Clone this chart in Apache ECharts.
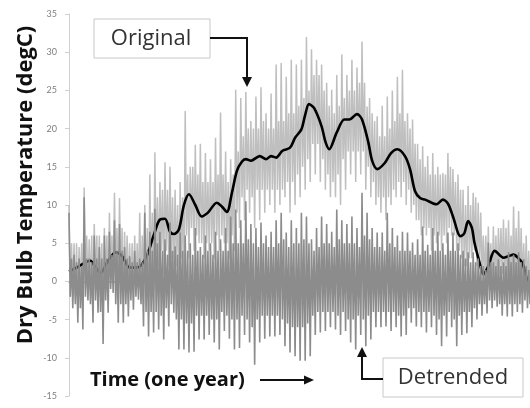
<!DOCTYPE html>
<html><head><meta charset="utf-8">
<script src="https://cdn.jsdelivr.net/npm/echarts@6/dist/echarts.min.js"></script>
<style>html,body{margin:0;padding:0;background:#fff}#c{width:530px;height:408px}</style>
</head><body><div id="c"></div>
<script>
// one bin every 4 days: extreme high/low and the dense core high/low
const binStep = 4;
const origHi = [10,5,4.5,12.3,5.5,7.5,6,7,9,11.6,
  10.9,6.5,5,6,9,10,14,16.9,13,15.6,
  15,12,13,22.3,15,17.9,18,16.8,16,18.8,
  22.1,17,16,25.1,24,24.8,21,24.2,25.4,22,
  24.6,28.4,28.6,26.8,29,28.4,29,32,30.4,29,
  28.4,26,25.1,27,29.7,27,29,28,31.4,22.9,
  22,21.6,23,24.2,25,26.8,27.7,22,21.2,18,
  17.7,16.4,16.8,15,14.2,16.8,14.7,14,12,12.5,
  11.6,10.3,6,7.2,7.2,7,8.1,8,9.8,9.2,
  5,4];
const origLo = [-2,-3,-4,-1,-3,-2,-6,-2,0,-2,
  -2,-1,-2,-1,-3,-4,-1,2,1,2,
  1,0,-1,3,4,5,3,4,3,4,
  5,3,4,7,8,9,7,8,9,10,
  9,10,11,9,10,11,12,13,14,13,
  12,11,11,10,12,14,13,14,12,11,
  10,9,8,10,11,11,10,9,8,6,
  6,4,5,4,5,6,4,3,2,3,
  2,1,-1,-1,0,1,0,0,0,0,
  -1,-2];
const origCoreHi = [5,5,5,6,6,6,5,6,6,7,
  7,6,5,5,6,7,9,11,12,12,
  11,10,11,14,15,14,13,13,13,14,
  14,13,14,17,19,20,20,20,21,20,
  20,21,21,22,22,23,24,25,27,27,
  25,23,22,23,24,25,25,26,26,24,
  21,19,19,20,21,22,21,20,18,16,
  15,14,14,14,14,15,13,12,10,10,
  11,9,6,5,6,7,7,6,7,7,
  6,4];
const origCoreLo = [-2,-2,-1,-1,-1,-1,-2,-1,0,0,
  0,-1,-1,-1,-1,0,1,2,4,4,
  3,2,3,6,7,6,5,5,5,6,
  6,5,6,9,11,12,11,12,12,12,
  12,12,12,13,13,14,15,16,18,18,
  16,14,13,14,16,17,17,17,17,15,
  13,11,11,11,12,13,13,12,10,8,
  7,7,6,6,6,7,6,4,2,3,
  4,2,0,-1,0,1,0,0,0,0,
  -1,-2];
const detrHi = [9.0,3.5,3.0,11.0,3.0,6.0,4.5,6.0,6.5,8.0,
  7.5,4.5,3.3,4.0,3.0,9.0,6.5,9.5,6.5,5.5,
  7.7,4.6,6.4,6.0,5.0,7.0,4.5,6.0,5.0,6.5,
  5.5,7.0,8.5,9.4,8.0,10.5,7.5,7.0,7.7,6.0,
  6.5,8.0,9.0,6.4,8.0,7.0,9.0,8.5,5.5,7.0,
  8.5,7.5,6.5,9.4,8.0,7.5,8.5,7.0,11.6,9.0,
  7.0,6.4,6.4,9.0,7.0,6.0,6.5,6.4,5.1,5.5,
  7.2,4.8,7.0,6.5,5.0,6.4,6.4,5.0,4.0,3.8,
  3.8,3.0,2.0,5.1,2.5,2.9,2.5,3.8,3.5,3.8,
  2.9,1.5];
const detrLo = [-3.5,-5.4,-6.3,-2.5,-5.4,-4.1,-8.2,-4.1,-1.5,-5.4,
  -5.4,-4.6,-3.7,-2.4,-5.9,-7.2,-6.7,-6.3,-7.6,-5.9,
  -4.1,-8.9,-8.9,-9.3,-9.2,-7.6,-7.6,-7.0,-8.0,-8.9,
  -6.5,-7.5,-8.9,-8.7,-7.0,-8.0,-10.9,-8.0,-7.5,-7.2,
  -7.2,-7.0,-8.5,-9.3,-9.8,-10.4,-10.4,-9.8,-7.0,-6.7,
  -6.5,-6.0,-6.3,-7.0,-6.5,-8.0,-8.9,-7.0,-8.5,-7.6,
  -6.0,-6.0,-5.9,-6.5,-6.0,-7.2,-7.0,-5.4,-5.9,-6.0,
  -6.7,-6.0,-7.0,-8.5,-7.2,-6.0,-8.5,-7.0,-6.8,-6.0,
  -5.0,-4.5,-4.2,-3.5,-3.3,-4.5,-4.6,-4.6,-4.0,-4.1,
  -3.5,-4.2];
const detrCoreHi = [3,2.5,2,3,2.5,3,3,3,3.5,4,
  4,3,2.5,2.5,2.5,4,4,5,4,3.5,
  4,3.5,4,4,3.5,4,3.5,4,3.5,4,
  4,4,5,5,5,5.5,5,4.5,5,4.5,
  4.5,5,5.5,4.5,5,5,5.5,5,4,4.5,
  5,5,4.5,5.5,5,5,5,4.5,6,5.5,
  4.5,4.5,4,5,4.5,4,4,4,3.5,3.5,
  4,3.5,4,4,3.5,4,4,3.5,3,2.5,
  2.5,2,1.5,2.5,2,2,2,2.5,2.5,2.5,
  2,1.5];
const detrCoreLo = [-2,-3,-3.5,-2,-3,-2.5,-4,-2.5,-1,-3,
  -3,-3,-2.5,-2,-3,-4,-4,-4,-4.5,-3.5,
  -3,-5,-5,-5.5,-5.5,-4.5,-4.5,-4.5,-5,-5,
  -4,-4.5,-5,-5,-4.5,-5,-6,-5,-4.5,-4.5,
  -4.5,-4.5,-5,-5.5,-6,-6,-6,-5.5,-4.5,-4,
  -4,-4,-4,-4.5,-4,-5,-5,-4.5,-5,-4.5,
  -4,-4,-4,-4,-4,-4.5,-4.5,-3.5,-3.5,-4,
  -4,-4,-4.5,-5,-4.5,-4,-5,-4.5,-4,-4,
  -3.5,-3,-3,-2.5,-2.5,-3,-3,-3,-3,-3,
  -2.5,-3];
const trendDay = [0,6,13,17,21,25,31,37,42,48,54,61,67,72,76,80,83,87,91,95,
  100,105,110,117,121,125,129,133,137,140,144,151,156,160,164,169,175,179,184,187,
  190,194,200,203,206,212,218,222,228,232,237,240,244,250,255,260,266,270,274,278,
  282,291,296,300,304,310,313,316,319,321,325,328,332,337,344,348,352,356,359,363,365];
const trendTemp = [1.3,1.8,2.5,2.7,1.8,1.1,2.7,3.8,3.3,1.8,1.8,3.1,6.0,8.1,8.2,6.5,6.2,6.8,10.0,11.4,
  10.0,8.5,9.0,10.3,9.8,9.1,11.6,14.5,15.7,16.0,15.8,16.4,16.0,16.4,16.2,17.1,17.5,18.8,19.9,21.8,
  23.2,22.7,20.3,18.3,17.3,19.5,21.2,21.2,21.9,21.2,18.2,15.8,14.7,15.5,16.8,17.3,16.4,14.7,11.8,10.9,
  10.7,10.1,10.7,10.2,8.5,5.9,6.3,7.9,7.0,5.1,2.5,0.9,2.0,4.0,3.1,3.3,3.5,3.0,2.4,0.0,-0.5];
const yMin = -15, yMax = 35, yStep = 5;
const yTitle = 'Dry Bulb Temperature (degC)';
const xTitle = 'Time (one year)';

// each bin: extreme high, core low, core high, extreme low
function trace(hi, coreLo, coreHi, lo) {
  const out = [];
  const q = binStep / 4;
  for (let i = 0; i < hi.length; i++) {
    const d = i * binStep;
    out.push([d, hi[i]], [d + q, coreLo[i]], [d + 2 * q, coreHi[i]], [d + 3 * q, lo[i]]);
  }
  return out;
}
const trendData = trendDay.map((d, i) => [d, trendTemp[i]]);

const chart = echarts.init(document.getElementById('c'), null, {renderer: 'canvas'});
const G = 100;
chart.setOption({
  animation: false,
  backgroundColor: '#fff',
  grid: {left: 69, right: 0, top: 14, bottom: 12},
  xAxis: {type: 'value', min: 0, max: 365,
    axisLine: {show: true, onZero: true, lineStyle: {color: '#8c8c8c', width: 1.5}},
    axisTick: {show: false}, axisLabel: {show: false}, splitLine: {show: false}},
  yAxis: {type: 'value', min: yMin, max: yMax, interval: yStep,
    axisLine: {show: true, lineStyle: {color: '#d0d0d0'}},
    axisTick: {show: true, length: 4, lineStyle: {color: '#d0d0d0'}},
    axisLabel: {color: '#7f7f7f', fontSize: 9, margin: 12, fontFamily: 'Lato'},
    splitLine: {show: false}},
  series: [
    {type: 'line', name: 'Original', data: trace(origHi, origCoreLo, origCoreHi, origLo), showSymbol: false,
      lineStyle: {color: '#bfbfbf', width: 1.5}, sampling: null, z: 2},
    {type: 'line', name: 'Trend', data: trendData, showSymbol: false, smooth: 0.3,
      lineStyle: {color: '#000', width: 2.6}, z: 3},
    {type: 'line', name: 'Detrended', data: trace(detrHi, detrCoreLo, detrCoreHi, detrLo), showSymbol: false,
      lineStyle: {color: '#8c8c8c', width: 1.6}, z: 4}
  ],
  graphic: [
    {type: 'text', z: G, x: 26, y: 185, rotation: Math.PI / 2,
      style: {text: yTitle, font: 'bold 22px "Open Sans"', fill: '#111', align: 'center', verticalAlign: 'middle'}},
    {type: 'rect', z: G, shape: {x: 94, y: 19, width: 116, height: 39},
      style: {fill: '#fff', stroke: '#c8c8c8', lineWidth: 1}},
    {type: 'text', z: G, x: 151, y: 38.5,
      style: {text: 'Original', font: '22px "Open Sans"', fill: '#333', align: 'center', verticalAlign: 'middle'}},
    {type: 'polyline', z: G, shape: {points: [[210, 38], [247, 38], [247, 79]]},
      style: {stroke: '#111', lineWidth: 2, fill: null}},
    {type: 'polygon', z: G, shape: {points: [[242, 77], [252, 77], [247, 87]]}, style: {fill: '#111'}},
    {type: 'rect', z: G, shape: {x: 383, y: 358, width: 140, height: 39},
      style: {fill: '#fff', stroke: '#c8c8c8', lineWidth: 1}},
    {type: 'text', z: G, x: 453, y: 378,
      style: {text: 'Detrended', font: '22px "Open Sans"', fill: '#333', align: 'center', verticalAlign: 'middle'}},
    {type: 'polyline', z: G, shape: {points: [[383, 379], [362, 379], [362, 355]]},
      style: {stroke: '#111', lineWidth: 2, fill: null}},
    {type: 'polygon', z: G, shape: {points: [[357, 357], [367, 357], [362, 347]]}, style: {fill: '#111'}},
    {type: 'text', z: G, x: 90, y: 380,
      style: {text: xTitle, font: 'bold 20px "Open Sans"', fill: '#111', align: 'left', verticalAlign: 'middle'}},
    {type: 'polyline', z: G, shape: {points: [[260, 380], [306, 380]]},
      style: {stroke: '#111', lineWidth: 2, fill: null}},
    {type: 'polygon', z: G, shape: {points: [[304, 375.5], [304, 384.5], [314, 380]]}, style: {fill: '#111'}}
  ]
});
</script></body></html>
